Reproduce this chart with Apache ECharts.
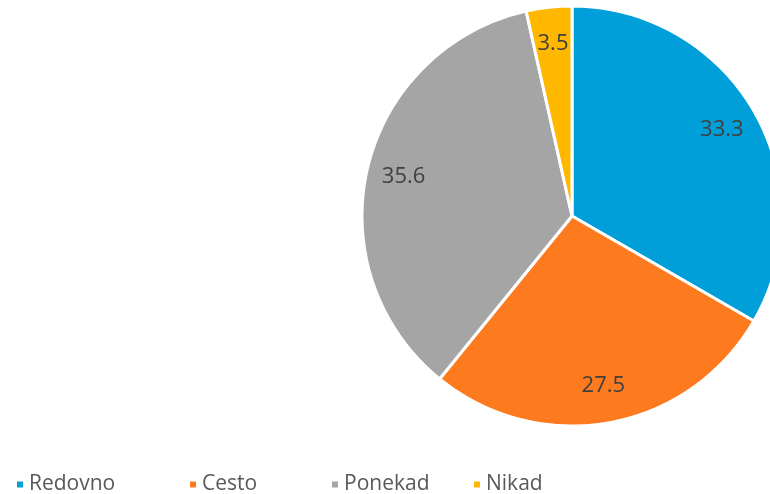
<!DOCTYPE html>
<html>
<head>
<meta charset="utf-8">
<script src="https://cdn.jsdelivr.net/npm/echarts@6/dist/echarts.min.js"></script>
<style>
html, body { margin: 0; padding: 0; background: #fff; }
#chartmain { width: 770px; height: 494px; }
</style>
</head>
<body>
<div id="chartmain"></div>
<script>
var categories = ['Redovno', 'Cesto', 'Ponekad', 'Nikad'];
var values = [33.3, 27.5, 35.6, 3.5];
var colors = ['#009fd9', '#fd7a1f', '#a5a5a5', '#ffb700'];

var pieData = categories.map(function(name, i) {
	return { name: name, value: values[i], itemStyle: { color: colors[i] } };
});

// one legend per item so each sits where the original puts it
var legendLeft = [10, 183, 325, 467];
var legends = categories.map(function(name, i) {
	return {
		data: [name],
		left: legendLeft[i],
		top: 469,
		icon: 'rect',
		itemWidth: 8,
		itemHeight: 8,
		itemGap: 0,
		textStyle: { fontFamily: 'Open Sans', fontSize: 21, color: '#595959', padding: [0, 0, 0, 0] }
	};
});

var option = {
	animation: false,
	legend: legends,
	series: [{
		name: 'pie',
		type: 'pie',
		center: [572, 216],
		radius: [0, 210],
		startAngle: 90,
		itemStyle: { borderColor: '#fff', borderWidth: 3 },
		label: { show: false },
		labelLine: { show: false },
		emphasis: { disabled: true },
		data: pieData
	}, {
		// transparent ring used only to place the value labels further out
		name: 'labels',
		type: 'pie',
		center: [572, 216],
		radius: [130, 210],
		startAngle: 90,
		silent: true,
		itemStyle: { color: 'rgba(0,0,0,0)', borderWidth: 0 },
		label: {
			show: true,
			position: 'inside',
			formatter: '{c}',
			fontFamily: 'Open Sans',
			fontSize: 22,
			color: '#404040'
		},
		labelLine: { show: false },
		emphasis: { disabled: true },
		data: categories.map(function(name, i) { return { name: name, value: values[i] }; })
	}]
};

var myChart = echarts.init(document.getElementById('chartmain'));
myChart.setOption(option);
</script>
</body>
</html>
